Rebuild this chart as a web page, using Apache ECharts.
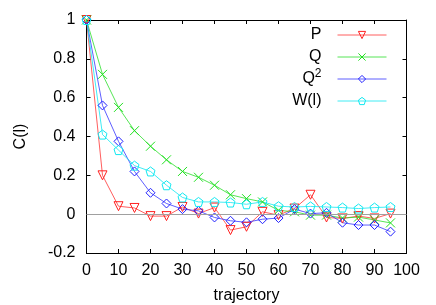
<!DOCTYPE html>
<html><head><meta charset="utf-8">
<script src="https://cdn.jsdelivr.net/npm/echarts@6/dist/echarts.min.js"></script>
<style>html,body{margin:0;padding:0;background:#fff}#c{width:436px;height:305px}</style>
</head><body><div id="c"></div>
<script>
const xs = [0,5,10,15,20,25,30,35,40,45,50,55,60,65,70,75,80,85,90,95];
const P  = [1,0.20,0.041,0.032,-0.01,-0.01,0.037,0.003,0.034,-0.082,-0.065,0.012,-0.005,0.029,0.10,-0.017,-0.022,-0.01,-0.022,0.003];
const Q  = [1,0.72,0.55,0.43,0.35,0.28,0.22,0.19,0.149,0.10,0.08,0.063,0.02,0.012,-0.005,-0.005,-0.02,-0.015,-0.03,-0.045];
const Q2 = [1,0.56,0.375,0.22,0.11,0.055,0.026,0.017,-0.017,-0.034,-0.042,-0.026,-0.02,0.026,0.003,0.007,-0.044,-0.056,-0.056,-0.09];
const W  = [1,0.41,0.33,0.25,0.22,0.149,0.086,0.063,0.063,0.06,0.051,0.063,0.041,0.037,0.04,0.037,0.034,0.029,0.034,0.037];
const names = ['P','Q','Q2','W(l)'];
const colors = ['#ff2020','#20e020','#2020ff','#10e8f0'];
const lineColors = ['rgba(255,40,40,0.75)','rgba(30,220,30,0.75)','rgba(40,40,255,0.75)','rgba(0,230,240,0.75)'];

const font = 'Liberation Sans, Arial, Helvetica, sans-serif';
function pairs(v){ return xs.map((x,i)=>[x,v[i]]); }
function mk(name, data, color, lc, symbol, size){
  return {
    name, type:'line', data: pairs(data), symbol, symbolSize: size,
    lineStyle:{color: lc, width:1}, itemStyle:{color:'rgba(0,0,0,0)', borderColor:color, borderWidth:1},
    emphasis:{disabled:true}, animation:false, z:3
  };
}
const chart = echarts.init(document.getElementById('c'));
const symbols = ['path://M0,0L10,0L5,9Z','path://M0,0L10,10M10,0L0,10','diamond','path://M50,0L97.6,34.5L79.4,90.5L20.6,90.5L2.4,34.5Z'];
const vals = [P,Q,Q2,W];
const series = names.map((n,i)=>mk(n, vals[i], colors[i], lineColors[i], symbols[i], 9));
series[0].markLine = {silent:true, symbol:'none', label:{show:false}, animation:false,
  lineStyle:{color:'#a0a0a0', type:'solid', width:1}, data:[{yAxis:0}]};

chart.setOption({
  animation:false,
  grid:{left:86.5, right:29.5, top:20, bottom:52, outerBoundsMode:'none', containLabel:false},
  legend:{
    orient:'vertical', right:49, top:24, padding:0, align:'right', itemWidth:49, itemHeight:9, itemGap:0,
    data: names.map((n,i)=>({name:n, itemStyle:{color:'rgba(0,0,0,0)', borderColor:colors[i], borderWidth:1}, lineStyle:{width:1, color:lineColors[i]}})),
    textStyle:{fontFamily:font, fontSize:16, lineHeight:22, color:'#000', width:44, align:'right', padding:[0,11,0,0],
      rich:{s:{fontSize:12, lineHeight:12, fontFamily:font, color:'#000', verticalAlign:'top'}, n:{fontSize:16, lineHeight:22, fontFamily:font, color:'#000'}}},
    formatter: n => n === 'Q2' ? '{n|Q}{s|2}' : n,
    selectedMode:false
  },
  xAxis:[{
    type:'value', min:0, max:100, interval:10,
    name:'trajectory', nameLocation:'middle', nameGap:35,
    nameTextStyle:{fontFamily:font, fontSize:16, color:'#000'},
    axisLine:{onZero:false, lineStyle:{color:'#000', width:1}},
    axisTick:{inside:true, length:4, lineStyle:{color:'#000'}},
    axisLabel:{fontFamily:font, fontSize:16, color:'#000', margin:10},
    splitLine:{show:false}
  },{
    type:'value', min:0, max:100, interval:10, position:'top',
    axisLine:{onZero:false, lineStyle:{color:'#000', width:1}},
    axisTick:{inside:true, length:4, lineStyle:{color:'#000'}},
    axisLabel:{show:false}, splitLine:{show:false}
  }],
  yAxis:[{
    type:'value', min:-0.2, max:1, interval:0.2,
    name:'C(l)', nameLocation:'middle', nameGap:58,
    nameTextStyle:{fontFamily:font, fontSize:16, color:'#000'},
    axisLine:{show:true, onZero:false, lineStyle:{color:'#000', width:1}},
    axisTick:{show:true, inside:true, length:4, lineStyle:{color:'#000'}},
    axisLabel:{fontFamily:font, fontSize:16, color:'#000', margin:11,
      formatter: v => String(Math.round(v*10)/10)},
    splitLine:{show:false}
  },{
    type:'value', min:-0.2, max:1, interval:0.2, position:'right',
    axisLine:{show:true, onZero:false, lineStyle:{color:'#000', width:1}},
    axisTick:{show:true, inside:true, length:4, lineStyle:{color:'#000'}},
    axisLabel:{show:false}, splitLine:{show:false}
  }],
  series
});
</script></body></html>
